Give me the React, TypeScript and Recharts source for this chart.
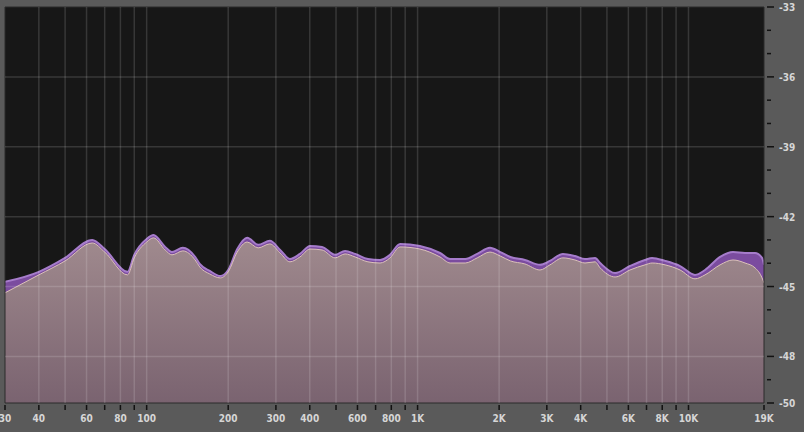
import { Area, CartesianGrid, ComposedChart, ReferenceArea, ReferenceLine, XAxis, YAxis } from "recharts"

// analyser bins (Hz) and levels (dB)
const freqs = [
  30, 40, 50, 63, 70, 85, 90, 100, 106, 117, 124, 136, 151, 157, 171, 187, 200, 216, 235, 258, 285, 311, 338, 368,
  401, 444, 496, 540, 588, 656, 727, 791, 862, 1020, 1210, 1320, 1500, 1660, 1850, 2020, 2200, 2490, 2830, 3080,
  3440, 3810, 4150, 4520, 4720, 5360, 6080, 6910, 7340, 8200, 9310, 10570, 11510, 13080, 14600, 16170, 17610,
  18690, 19000,
]

const avgDb = [
  -45.27, -44.5, -43.9, -43.13, -43.52, -44.5, -43.77, -43.09, -42.91, -43.43, -43.64, -43.47, -43.86, -44.16,
  -44.46, -44.63, -44.37, -43.52, -43.09, -43.34, -43.17, -43.56, -43.94, -43.73, -43.39, -43.43, -43.77, -43.6,
  -43.73, -43.94, -43.99, -43.77, -43.3, -43.39, -43.73, -43.99, -43.99, -43.77, -43.52, -43.69, -43.9, -44.03,
  -44.29, -44.07, -43.77, -43.86, -43.99, -43.94, -44.2, -44.59, -44.29, -44.07, -43.99, -44.07, -44.29, -44.67,
  -44.5, -44.07, -43.86, -43.99, -44.2, -44.63, -44.85,
]

const maxDb = [
  -44.8, -44.37, -43.77, -43.0, -43.39, -44.37, -43.64, -42.96, -42.79, -43.3, -43.52, -43.34, -43.73, -44.03,
  -44.33, -44.55, -44.29, -43.39, -42.91, -43.21, -43.04, -43.43, -43.82, -43.6, -43.26, -43.3, -43.64, -43.47,
  -43.6, -43.82, -43.86, -43.64, -43.17, -43.26, -43.56, -43.82, -43.82, -43.6, -43.34, -43.52, -43.73, -43.86,
  -44.07, -43.9, -43.6, -43.69, -43.82, -43.77, -43.99, -44.42, -44.12, -43.86, -43.77, -43.9, -44.12, -44.5,
  -44.29, -43.73, -43.52, -43.56, -43.56, -43.77, -44.07,
]

const freqTicks = [
  30, 40, 50, 60, 70, 80, 90, 100, 200, 300, 400, 500, 600, 700, 800, 900, 1000, 2000, 3000, 4000, 5000, 6000,
  7000, 8000, 9000, 10000, 19000,
]
const freqLabelled = [30, 40, 60, 80, 100, 200, 300, 400, 600, 800, 1000, 2000, 3000, 4000, 6000, 8000, 10000, 19000]

const dbTicks = [-50, -49, -48, -47, -46, -45, -44, -43, -42, -41, -40, -39, -38, -37, -36, -35, -34, -33]
const dbLabelled = [-33, -36, -39, -42, -45, -48, -50]
const dbGrid = [-36, -39, -42, -45, -48]

const data = freqs.map((f, i) => ({ f, avg: avgDb[i], max: maxDb[i] }))

const labelFont = "'DejaVu Sans Condensed', 'DejaVu Sans', sans-serif"
const gridStroke = "rgba(255,255,255,0.14)"

const fmtFreq = (v: number) => (v >= 1000 ? `${v / 1000}K` : `${v}`)

function FreqTick({ x, y, payload }: any) {
  const v = payload.value
  return (
    <g>
      <line x1={x} x2={x} y1={y + 2} y2={y + 7} stroke="#111" strokeWidth={1.5} />
      {freqLabelled.includes(v) && (
        <text x={x} y={y + 19} textAnchor="middle" fill="#d6d6d6" fontSize={10} fontWeight="bold" fontFamily={labelFont}>
          {fmtFreq(v)}
        </text>
      )}
    </g>
  )
}

function DbTick({ x, y, payload }: any) {
  const v = payload.value
  const major = dbLabelled.includes(v)
  return (
    <g>
      <line x1={x + 3} x2={x + (major ? 10 : 7)} y1={y} y2={y} stroke="#111" strokeWidth={1.5} />
      {major && (
        <text x={x + 15} y={y + 4} textAnchor="start" fill="#d6d6d6" fontSize={10} fontWeight="bold" fontFamily={labelFont}>
          {v}
        </text>
      )}
    </g>
  )
}

export default function App() {
  return (
    <div style={{ position: "absolute", left: 0, top: 0, width: 804, height: 432, background: "#5a5a5a" }}>
      <ComposedChart width={804} height={432} data={data} margin={{ top: 7, right: 0, bottom: 0, left: 5 }}>
        <defs>
          <linearGradient id="avgFill" x1="0" y1="0" x2="0" y2="1">
            <stop offset="0%" stopColor="#a08a8e" />
            <stop offset="100%" stopColor="#7a6370" />
          </linearGradient>
        </defs>
        <CartesianGrid fill="#171717" horizontal={false} vertical={false} />
        <XAxis
          dataKey="f"
          type="number"
          scale="log"
          domain={[30, 19000]}
          ticks={freqTicks}
          interval={0}
          height={29}
          tickLine={false}
          axisLine={false}
          tickSize={0}
          tickMargin={0}
          tick={<FreqTick />}
          allowDataOverflow
        />
        <YAxis
          orientation="right"
          type="number"
          domain={[-50, -33]}
          ticks={dbTicks}
          interval={0}
          width={40}
          tickLine={false}
          axisLine={false}
          tickSize={0}
          tickMargin={0}
          tick={<DbTick />}
          allowDataOverflow
        />
        <Area
          type="monotone"
          dataKey="max"
          baseValue="dataMin"
          stroke="#a67ccb"
          strokeWidth={2}
          fill="#7b4c9f"
          fillOpacity={1}
          isAnimationActive={false}
        />
        <Area
          type="monotone"
          dataKey="avg"
          baseValue="dataMin"
          stroke="#dcc2b9"
          strokeWidth={1}
          fill="url(#avgFill)"
          fillOpacity={1}
          isAnimationActive={false}
        />
        {freqTicks.slice(1, -1).map((f) => (
          <ReferenceLine key={`f${f}`} x={f} stroke={gridStroke} strokeWidth={1.5} />
        ))}
        {dbGrid.map((d) => (
          <ReferenceLine key={`d${d}`} y={d} stroke={gridStroke} strokeWidth={1.5} />
        ))}
        <ReferenceArea x1={30} x2={19000} y1={-50} y2={-33} fill="none" stroke="#2a2a2a" strokeWidth={1} />
      </ComposedChart>
    </div>
  )
}
